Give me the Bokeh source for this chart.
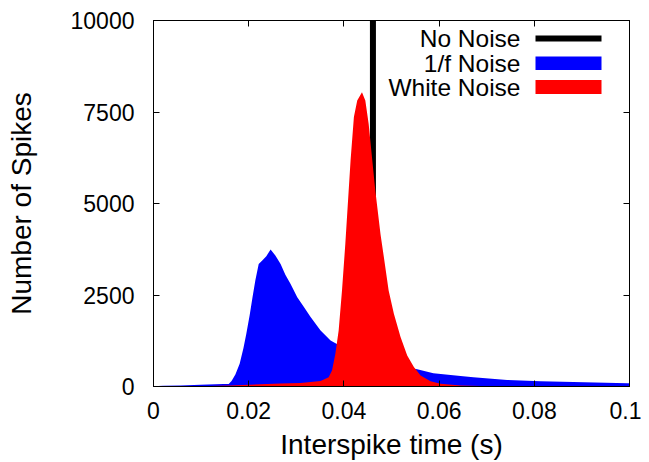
from bokeh.plotting import figure
from bokeh.models import LinearAxis, FixedTicker, Label, BoxAnnotation, Range1d, CustomLabelingPolicy
from bokeh.embed import file_html
from bokeh.resources import INLINE

# ---- data ----
no_noise_x = [0.0461]
no_noise_count = [20000]

onef_x = [0.0, 0.002, 0.0057, 0.0099, 0.0147, 0.0158, 0.0164, 0.0172, 0.0181, 0.0189,
          0.0195, 0.0202, 0.0208, 0.0214, 0.0221, 0.0229, 0.0237, 0.0246, 0.0256, 0.0267,
          0.0277, 0.0288, 0.0302, 0.0316, 0.0330, 0.0351, 0.0372, 0.0387, 0.0414, 0.0456,
          0.0498, 0.0554, 0.0588, 0.0645, 0.0672, 0.0743, 0.0813, 0.0882, 0.0996, 0.1]
onef_count = [10, 20, 30, 50, 70, 70, 150, 330, 620, 1050,
              1440, 1950, 2440, 2900, 3350, 3450, 3560, 3740, 3580, 3350,
              3050, 2800, 2440, 2170, 1900, 1530, 1257, 1150, 950, 750,
              610, 470, 365, 285, 255, 180, 145, 120, 90, 90]

white_x = [0.0, 0.0099, 0.0162, 0.0225, 0.0267, 0.0309, 0.0351, 0.0368, 0.0375, 0.0382,
           0.0389, 0.0396, 0.0403, 0.0414, 0.0421, 0.0428, 0.0438, 0.0445, 0.0452, 0.0459,
           0.0466, 0.0477, 0.0484, 0.0494, 0.0505, 0.0519, 0.0533, 0.0547, 0.0561, 0.0582,
           0.0603, 0.0645, 0.0708, 0.1]
white_count = [0, 10, 30, 60, 80, 95, 150, 255, 440, 890,
               1530, 2620, 3900, 6175, 7360, 7815, 8040, 7815, 7180, 6265,
               5355, 4150, 3530, 2620, 1985, 1350, 850, 530, 300, 145,
               73, 27, 5, 0]

x_ticks = [0, 0.02, 0.04, 0.06, 0.08, 0.1]
x_tick_labels = ["0", "0.02", "0.04", "0.06", "0.08", "0.1"]
y_ticks = [0, 2500, 5000, 7500, 10000]
y_tick_labels = ["0", "2500", "5000", "7500", "10000"]

x_title = "Interspike time (s)"
y_title = "Number of Spikes"
legend_labels = ["No Noise", "1/f Noise", "White Noise"]
legend_colors = ["black", "blue", "red"]

FONT = "Liberation Sans"

p = figure(width=641, height=462, x_range=Range1d(0, 0.1), y_range=Range1d(0, 10000),
           output_backend="svg", toolbar_location=None,
           min_border_left=153, min_border_right=12, min_border_top=20, min_border_bottom=76)
p.grid.visible = False
p.outline_line_color = "black"
p.outline_line_width = 1
p.background_fill_color = "white"
p.border_fill_color = "white"

# series
p.segment(x0=no_noise_x, y0=[0] * len(no_noise_x), x1=no_noise_x, y1=no_noise_count,
          line_color="black", line_width=6)
p.varea(x=onef_x, y1=[0] * len(onef_x), y2=onef_count, fill_color="blue")
p.varea(x=white_x, y1=[0] * len(white_x), y2=white_count, fill_color="red")

hide_all = CustomLabelingPolicy(code="""
const n = indices.size;
for (let i = 0; i < n; i++) { indices.unset(i); }
return indices;
""")

def style(ax, ticks, labels, show_labels=True):
    ax.ticker = FixedTicker(ticks=ticks)
    ax.major_label_overrides = {t: l for t, l in zip(ticks, labels)}
    ax.major_tick_in = 6
    ax.major_tick_out = 0
    ax.minor_tick_line_color = None
    ax.major_tick_line_color = "black"
    ax.axis_line_color = "black"
    ax.major_label_text_font = FONT
    ax.major_label_text_color = "black"
    ax.axis_label_text_font = FONT
    ax.axis_label_text_font_style = "normal"
    ax.axis_label_text_color = "black"
    if not show_labels:
        ax.major_label_policy = hide_all
        ax.major_label_standoff = 0
        ax.major_label_text_font_size = "1px"

xa = p.xaxis[0]
style(xa, x_ticks, x_tick_labels)
xa.major_label_text_font_size = "23px"
xa.major_label_standoff = 15
xa.axis_label = x_title
xa.axis_label_text_font_size = "28px"
xa.axis_label_standoff = 7

ya = p.yaxis[0]
style(ya, y_ticks, y_tick_labels)
ya.major_label_text_font_size = "23px"
ya.major_label_standoff = 19
ya.axis_label = y_title
ya.axis_label_text_font_size = "28px"
ya.axis_label_standoff = 31

top_ax = LinearAxis()
style(top_ax, x_ticks, x_tick_labels, show_labels=False)
p.add_layout(top_ax, "above")
right_ax = LinearAxis()
style(right_ax, y_ticks, y_tick_labels, show_labels=False)
p.add_layout(right_ax, "right")

# legend (frame-relative screen units), text right-aligned, sample on the right
row_y = [348, 323.3, 299.5]
sample_h = [6, 13.5, 14]
for lab, col, yy, hh in zip(legend_labels, legend_colors, row_y, sample_h):
    p.add_layout(Label(x=367, y=yy, x_units="screen", y_units="screen", text=lab,
                       text_align="right", text_baseline="middle", text_font=FONT,
                       text_font_size="24.5px", text_color="black"))
    p.add_layout(BoxAnnotation(left=382, right=448, bottom=yy - hh / 2, top=yy + hh / 2,
                               left_units="screen", right_units="screen",
                               bottom_units="screen", top_units="screen",
                               fill_color=col, fill_alpha=1.0, line_color=None))

open("out.html", "w").write(file_html(p, INLINE))
